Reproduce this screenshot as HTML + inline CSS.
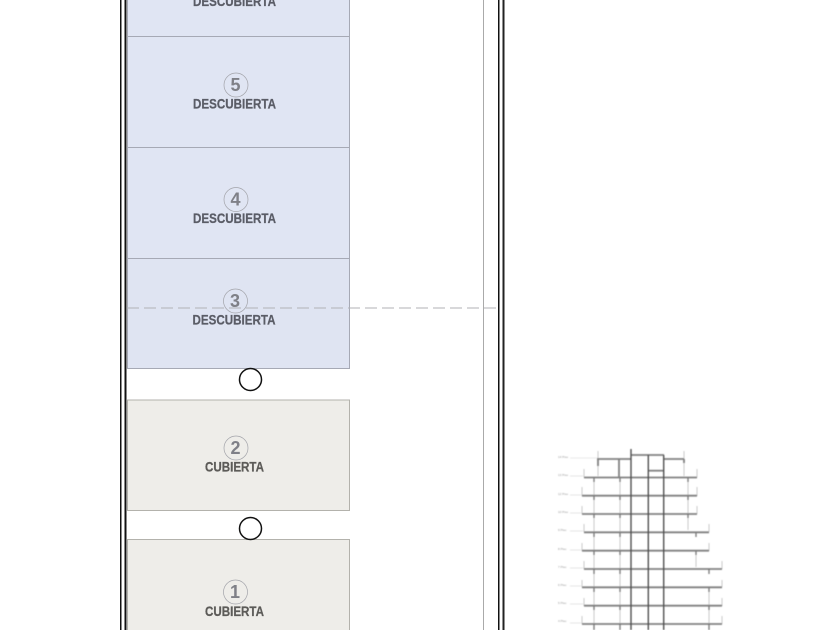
<!DOCTYPE html>
<html>
<head>
<meta charset="utf-8">
<style>
html,body{margin:0;padding:0;background:#fff;width:840px;height:630px;overflow:hidden}
svg{display:block}
text{font-family:"Liberation Sans",sans-serif}
.l{font-size:13.5px;font-weight:bold;fill:#5a5c66;stroke:#5a5c66;stroke-width:.25;text-anchor:middle}
.c{font-size:13.5px;font-weight:bold;fill:#5c5b58;stroke:#5c5b58;stroke-width:.25;text-anchor:middle}
.n{font-size:18px;font-weight:bold;fill:#7f8087;text-anchor:middle}
.t{font-size:3px;fill:#999}
</style>
</head>
<body>
<svg width="840" height="630" viewBox="0 0 840 630" xmlns="http://www.w3.org/2000/svg">
<defs><filter id="b" x="-5%" y="-5%" width="110%" height="110%"><feGaussianBlur stdDeviation="0.45"/></filter></defs>
<rect width="840" height="630" fill="#fff"/>

<!-- walls -->
<rect x="120" y="0" width="1.500" height="630" fill="#111"/>
<rect x="124.500" y="0" width="2" height="630" fill="#111"/>
<rect x="498" y="0" width="1.500" height="630" fill="#111"/>
<rect x="502.500" y="0" width="2" height="630" fill="#222"/>
<rect x="483" y="0" width="1" height="630" fill="#aaa"/>

<!-- blue bays -->
<g fill="#e0e5f3" stroke="#a6a9b5" stroke-width="1">
<rect x="127.500" y="-74" width="222" height="110.500"/>
<rect x="127.500" y="36.500" width="222" height="111"/>
<rect x="127.500" y="147.500" width="222" height="111"/>
<rect x="127.500" y="258.500" width="222" height="110" fill="#dfe4f2"/>
</g>
<!-- grey bays -->
<g fill="#eeede9" stroke="#b3b2ac" stroke-width="1">
<rect x="127.500" y="400" width="222" height="110.500"/>
<rect x="127.500" y="539.500" width="222" height="110"/>
</g>

<!-- numbered circles -->
<g fill="none" stroke="#a2a3a9" stroke-width="0.700">
<circle cx="236" cy="85" r="12"/>
<circle cx="236" cy="199.500" r="12"/>
<circle cx="235.500" cy="301" r="12"/>
<circle cx="236" cy="448" r="12"/>
<circle cx="235.500" cy="592" r="12"/>
</g>
<text class="n" x="235.500" y="91">5</text>
<text class="n" x="235.500" y="205.500">4</text>
<text class="n" x="235" y="307">3</text>
<text class="n" x="235.500" y="454">2</text>
<text class="n" x="235" y="598">1</text>

<text class="l" x="234.500" y="6" textLength="83" lengthAdjust="spacingAndGlyphs">DESCUBIERTA</text>
<text class="l" x="234.500" y="108.500" textLength="83" lengthAdjust="spacingAndGlyphs">DESCUBIERTA</text>
<text class="l" x="234.500" y="223" textLength="83" lengthAdjust="spacingAndGlyphs">DESCUBIERTA</text>
<text class="l" x="234" y="324.500" textLength="83" lengthAdjust="spacingAndGlyphs">DESCUBIERTA</text>
<text class="c" x="234.500" y="471.500" textLength="59" lengthAdjust="spacingAndGlyphs">CUBIERTA</text>
<text class="c" x="234.500" y="616" textLength="59" lengthAdjust="spacingAndGlyphs">CUBIERTA</text>

<!-- dashed line -->
<line x1="127" y1="308" x2="498" y2="308" stroke="#b0b2b6" stroke-width="1" stroke-dasharray="12 5"/>

<!-- black circles -->
<circle cx="250.500" cy="379.500" r="11" fill="#fff" stroke="#111" stroke-width="1.500"/>
<circle cx="250.500" cy="528.500" r="11" fill="#fff" stroke="#111" stroke-width="1.500"/>

<g filter="url(#b)">
<!-- section: thin columns -->
<g stroke="#bdbdbd" stroke-width="0.800" fill="none">
<line x1="598" y1="451" x2="598" y2="476"/>
<line x1="684" y1="451" x2="684" y2="476"/>
<line x1="594" y1="477" x2="594" y2="630"/>
<line x1="620" y1="477" x2="620" y2="630"/>
<line x1="688" y1="477" x2="688" y2="530"/>
<line x1="696" y1="550" x2="696" y2="567"/>
<line x1="709" y1="587" x2="709" y2="630"/>
<line x1="584" y1="469" x2="584" y2="477"/><line x1="582" y1="487" x2="582" y2="496"/><line x1="582" y1="506" x2="582" y2="514"/><line x1="584" y1="524" x2="584" y2="532"/><line x1="582" y1="543" x2="582" y2="551"/><line x1="584" y1="561" x2="584" y2="569"/><line x1="582" y1="580" x2="582" y2="587"/><line x1="584" y1="598" x2="584" y2="606"/><line x1="582" y1="616" x2="582" y2="624"/>
<line x1="697" y1="469" x2="697" y2="477"/><line x1="697" y1="487" x2="697" y2="496"/><line x1="697" y1="506" x2="697" y2="514"/><line x1="709" y1="524" x2="709" y2="532"/><line x1="709" y1="543" x2="709" y2="551"/><line x1="722" y1="561" x2="722" y2="569"/><line x1="722" y1="580" x2="722" y2="587"/><line x1="722" y1="598" x2="722" y2="606"/><line x1="722" y1="616" x2="722" y2="624"/>
</g>
<!-- level leader lines -->
<g stroke="#d4d4d4" stroke-width="0.600">
<line x1="570" y1="458" x2="597" y2="458"/>
<line x1="570" y1="476" x2="583" y2="476"/>
<line x1="570" y1="495" x2="581" y2="495"/>
<line x1="570" y1="513" x2="581" y2="513"/>
<line x1="570" y1="531" x2="583" y2="531"/>
<line x1="570" y1="550" x2="581" y2="550"/>
<line x1="570" y1="568" x2="583" y2="568"/>
<line x1="570" y1="586" x2="581" y2="586"/>
<line x1="570" y1="604" x2="583" y2="604"/>
<line x1="570" y1="623" x2="581" y2="623"/>
</g>
<!-- slabs -->
<g stroke="#808080" stroke-width="1.800" fill="none">
<line x1="597" y1="459" x2="631" y2="459"/>
<line x1="664" y1="459" x2="684" y2="459"/>
<line x1="631" y1="455" x2="664" y2="455"/>
<line x1="648" y1="470.700" x2="664" y2="470.700"/>
<line x1="584" y1="477.500" x2="697" y2="477.500"/>
<line x1="582" y1="495.700" x2="697" y2="495.700"/>
<line x1="582" y1="514" x2="697" y2="514"/>
<line x1="584" y1="532.300" x2="709" y2="532.300"/>
<line x1="582" y1="550.700" x2="709" y2="550.700"/>
<line x1="584" y1="569" x2="722" y2="569"/>
<line x1="582" y1="587.300" x2="722" y2="587.300"/>
<line x1="584" y1="605.700" x2="722" y2="605.700"/>
<line x1="582" y1="624" x2="722" y2="624"/>
<line x1="598" y1="459" x2="598" y2="466"/>
<line x1="619" y1="459" x2="619" y2="477"/>
<line x1="684" y1="459" x2="684" y2="463"/>
</g>
<!-- core -->
<g stroke="#444" stroke-width="1.300" fill="none">
<line x1="631" y1="449" x2="631" y2="630"/>
<line x1="648.300" y1="455" x2="648.300" y2="630"/>
<line x1="663.700" y1="455" x2="663.700" y2="630"/>
</g>
<!-- column stubs -->
<g stroke="#777" stroke-width="1.300">
<line x1="594" y1="478" x2="594" y2="482"/><line x1="620" y1="478" x2="620" y2="482"/><line x1="688" y1="478" x2="688" y2="482"/>
<line x1="594" y1="496" x2="594" y2="500"/><line x1="620" y1="496" x2="620" y2="500"/><line x1="688" y1="496" x2="688" y2="500"/>
<line x1="594" y1="514" x2="594" y2="518"/><line x1="620" y1="514" x2="620" y2="518"/><line x1="688" y1="514" x2="688" y2="518"/>
<line x1="594" y1="533" x2="594" y2="537"/><line x1="620" y1="533" x2="620" y2="537"/><line x1="696" y1="533" x2="696" y2="537"/>
<line x1="594" y1="551" x2="594" y2="555"/><line x1="620" y1="551" x2="620" y2="555"/><line x1="696" y1="551" x2="696" y2="555"/>
<line x1="594" y1="569" x2="594" y2="574"/><line x1="620" y1="569" x2="620" y2="574"/><line x1="709" y1="569" x2="709" y2="574"/>
<line x1="594" y1="588" x2="594" y2="592"/><line x1="620" y1="588" x2="620" y2="592"/><line x1="709" y1="588" x2="709" y2="592"/>
<line x1="594" y1="606" x2="594" y2="610"/><line x1="620" y1="606" x2="620" y2="610"/><line x1="709" y1="606" x2="709" y2="610"/>
<line x1="594" y1="624" x2="594" y2="630"/><line x1="620" y1="624" x2="620" y2="630"/><line x1="709" y1="624" x2="709" y2="630"/>
</g>
<!-- level labels -->
<text class="t" x="558" y="458">14 Piso</text>
<text class="t" x="558" y="476">13 Piso</text>
<text class="t" x="558" y="495">12 Piso</text>
<text class="t" x="558" y="513">10 Piso</text>
<text class="t" x="558" y="531">9 Piso</text>
<text class="t" x="558" y="550">8 Piso</text>
<text class="t" x="558" y="568">7 Piso</text>
<text class="t" x="558" y="586">6 Piso</text>
<text class="t" x="558" y="604">5 Piso</text>
<text class="t" x="558" y="622">4 Piso</text>
</g>
</svg>
</body>
</html>
